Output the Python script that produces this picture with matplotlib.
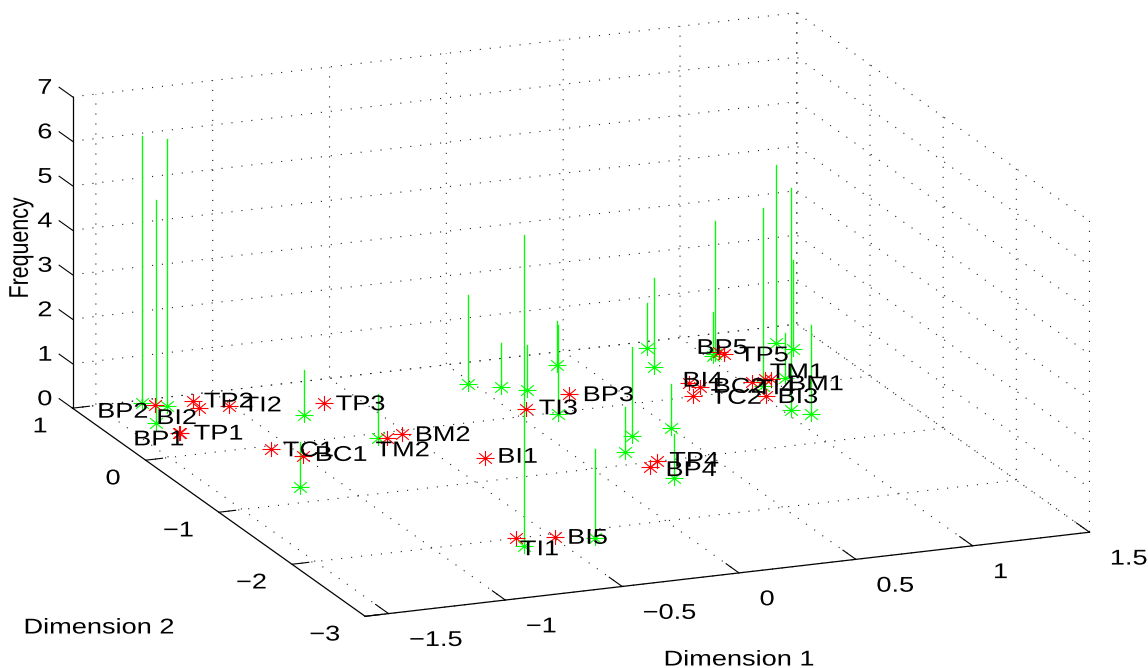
import matplotlib
matplotlib.use("Agg")
import matplotlib.pyplot as plt
from matplotlib.patheffects import AbstractPathEffect
from matplotlib.path import Path
from matplotlib.transforms import Affine2D
from mpl_toolkits.mplot3d import proj3d

red_names = ['BP1','BP2','BP3','BP4','BP5','TP1','TP2','TP3','TP4','TP5',
             'BI1','BI2','BI3','BI4','BI5','TI1','TI2','TI3','TI4',
             'BC1','BC2','TC1','TC2','BM1','BM2','TM1','TM2']
red_x = [-1.34,-1.28,0.30,0.22,1.066,-1.33,-1.122,-0.65,0.28,1.076,
         -0.34,-1.135,1.014,0.80,-0.49,-0.64,-1.016,0.064,1.035,
         -1.0,0.82,-1.083,0.746,1.118,-0.52,1.097,-0.60]
red_y = [0.38,0.90,0.28,-1.08,0.68,0.39,0.88,0.60,-0.99,0.64,
         -0.61,0.76,-0.13,0.24,-2.05,-2.00,0.73,0.11,0.125,
         -0.23,0.15,-0.06,0.015,0.14,-0.06,0.15,-0.10]
label_dx = [-45,-57,14,16,-22,13.6,11,12,12,15,
            13,-42,12,-6,12.6,3.7,14,12.4,4,
            12.5,13,12,18,18,12.8,5,-11]
label_dy = [5,6,0,2,-5.6,0,-1,0,-1,0,
            -2,9,0,-3,0,10,-2,-2,5,
            -2,-1,0,1,4,0,-8,11]

green_x = [-1.32,-1.37,-1.24,-0.78,-1.17,-0.63,-0.02,0.084,0.167,-0.654,0.405,0.157,-0.35,
           0.208,0.312,0.498,0.25,0.828,0.756,1.045,1.025,1.324,1.355,1.035,1.087,1.18,1.056]
green_y = [0.95,0.60,0.86,0.45,-0.73,-0.08,0.64,0.52,0.43,-2.15,0.78,-0.02,-2.15,
           -0.78,-0.54,-0.48,-1.31,0.90,0.57,0.66,0.63,0.72,0.59,-0.41,-0.51,0.14,0.04]
green_h = [6,5,6,1,1,1,2,1,1,7,1,2,2,
           1,2,1,1,1,2,3,1,4,2,5,2,1,4]

x_ticks = [-1.5,-1,-0.5,0,0.5,1,1.5]
x_tick_labels = ['\u22121.5','\u22121','\u22120.5','0','0.5','1','1.5']
y_ticks = [-3,-2,-1,0,1]
y_tick_labels = ['\u22123','\u22122','\u22121','0','1']
z_ticks = [0,1,2,3,4,5,6,7]
z_tick_labels = ['0','1','2','3','4','5','6','7']

FONT = 'Liberation Sans'
FS = 15.4
SX = 1.27


class HStretch(AbstractPathEffect):
    """Widens text horizontally, as in the stretched original figure."""
    def __init__(self, sx, anchor='center', ox=0, oy=0):
        super().__init__()
        self.sx, self.anchor, self.ox, self.oy = sx, anchor, ox, oy

    def draw_path(self, renderer, gc, tpath, affine, rgbFace=None):
        e = affine.transform_path(tpath).get_extents()
        cx = {'left': e.x0, 'right': e.x1, 'center': (e.x0 + e.x1) / 2}[self.anchor]
        a = affine + Affine2D().translate(-cx, 0).scale(self.sx, 1).translate(cx + self.ox, self.oy)
        renderer.draw_path(gc, tpath, a, rgbFace)


W, H = 1148, 668
fig = plt.figure(figsize=(W/100, H/100), dpi=100)
S = 1118.0
cx, cy = 581.0, 668 - 314.5
ax = fig.add_axes([(cx - .95/1.85*S)/W, (cy - .95/1.85*S)/H, S/W, S/H], projection='3d', proj_type='ortho')
ax.computed_zorder = False
ax.view_init(elev=16.7, azim=-112)
ax.set_box_aspect((781, 781, 325))
ax.set_xlim(-1.6, 1.5)
ax.set_ylim(-3, 1)
ax.set_zlim(0, 7)
ax.patch.set_alpha(0)

ax.set_xticks(x_ticks, x_tick_labels)
ax.set_yticks(y_ticks, y_tick_labels)
ax.set_zticks(z_ticks, z_tick_labels)
ax.tick_params(axis='x', pad=6)
ax.tick_params(axis='y', pad=6)
ax.tick_params(axis='z', pad=2)
ax.zaxis._get_tickdir = lambda position: 1
styles = ((ax.xaxis, .55, 'left', 'left', 11, 0),
          (ax.yaxis, .29, 'right', 'right', -1, 4),
          (ax.zaxis, .57, 'right', 'right', 4, 15))
for axis, f, ha, anchor, ox, oy in styles:
    axis.set_pane_color((1, 1, 1, 0))
    axis.pane.set_edgecolor((1, 1, 1, 0))
    axis.line.set_color('black')
    axis.line.set_linewidth(0.9)
    axis._axinfo['tick'].update(inward_factor=0, outward_factor=f)
    axis._axinfo['tick']['linewidth'] = {True: 0.8, False: 0.8}
    axis._axinfo['grid'].update(color='#222222', linewidth=0.8, linestyle=(0, (1, 8)))
    for t in axis.get_ticklabels():
        t.set_fontname(FONT)
        t.set_fontsize(FS)
        t.set_ha(ha)
        t.set_path_effects([HStretch(SX, anchor, ox, oy)])
ax.grid(True)

asterisk = Path([(-1.2, 0), (1.2, 0), (0, -1), (0, 1), (-.85, -.7), (.85, .7), (-.85, .7), (.85, -.7)],
                [Path.MOVETO, Path.LINETO] * 4)
for x, y, h in zip(green_x, green_y, green_h):
    ax.plot([x, x], [y, y], [0, h], color=(0, 1, 0), lw=0.95)
ax.plot(green_x, green_y, [0]*len(green_x), ls='none', marker=asterisk, ms=13, mew=0.8,
        mec=(0, 1, 0), mfc='none')
ax.plot(red_x, red_y, [0]*len(red_x), ls='none', marker=asterisk, ms=13, mew=0.8,
        mec=(1, 0, 0), mfc='none')

M = ax.get_proj()
for n, x, y, dx, dy in zip(red_names, red_x, red_y, label_dx, label_dy):
    px, py, _ = proj3d.proj_transform(x, y, 0, M)
    ax.text2D(px, py, n, ha='left', va='center', fontname=FONT, fontsize=FS, color='black',
              transform=ax.transData + Affine2D().translate(dx, -dy - 1.5),
              path_effects=[HStretch(SX, 'left')])

def ftext(px, py, s, **kw):
    fig.text(px/W, 1 - py/H, s, ha='center', va='center', fontname=FONT, fontsize=FS,
             path_effects=[HStretch(SX)], **kw)

ftext(739, 660, 'Dimension 1')
ftext(99, 628, 'Dimension 2')
ftext(21, 248, 'Frequency', rotation=90)

fig.savefig('out.png', dpi=100)
